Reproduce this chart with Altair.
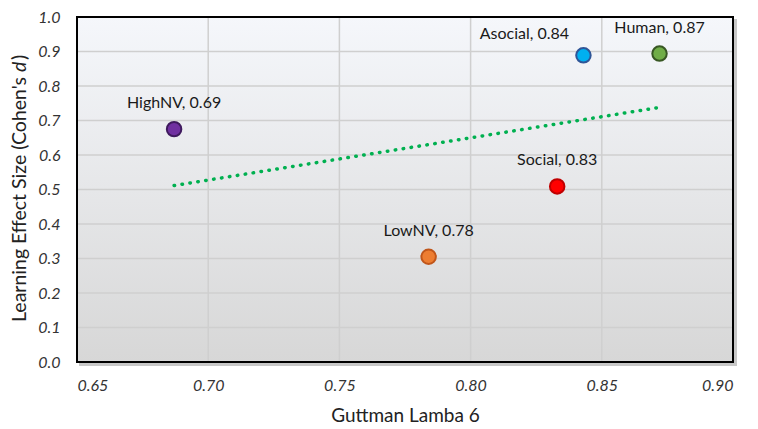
import altair as alt
import pandas as pd

# ---- data ----
names = ["HighNV", "LowNV", "Social", "Asocial", "Human"]
lamba6 = [0.687, 0.784, 0.833, 0.843, 0.872]
effect = [0.675, 0.305, 0.509, 0.889, 0.894]
labels = ["HighNV, 0.69", "LowNV, 0.78", "Social, 0.83", "Asocial, 0.84", "Human, 0.87"]
fill_colors = ["#7030a0", "#ed7d31", "#ff0000", "#00b0f0", "#70ad47"]
stroke_colors = ["#3f1a5e", "#c0561a", "#c00000", "#2f5597", "#385723"]
x_ticks = [0.65, 0.70, 0.75, 0.80, 0.85, 0.90]
y_ticks = [0.0, 0.1, 0.2, 0.3, 0.4, 0.5, 0.6, 0.7, 0.8, 0.9, 1.0]

W, H = 656, 345
FONT = "Lato"

df = pd.DataFrame({"name": names, "x": lamba6, "y": effect, "label": labels})
xt = pd.DataFrame({"t": x_ticks})
yt = pd.DataFrame({"t": y_ticks})
one = pd.DataFrame({"a": [0]})

xscale = alt.Scale(domain=[0.65, 0.90], nice=False, zero=False)
yscale = alt.Scale(domain=[0.0, 1.0], nice=False, zero=False)

xaxis = alt.Axis(values=x_ticks, format=".2f", title="Guttman Lamba 6",
                 grid=False, domain=False, ticks=False, labelOverlap=False,
                 labelFont=FONT, labelFontSize=16, labelFontStyle="italic",
                 labelColor="#333333", labelPadding=15,
                 titleFont=FONT, titleFontSize=19, titleFontWeight="normal",
                 titleColor="#222222", titlePadding=13)
yaxis = alt.Axis(values=y_ticks, format=".1f", title=None,
                 grid=False, domain=False, ticks=False, labelOverlap=False,
                 labelFont=FONT, labelFontSize=16, labelFontStyle="italic",
                 labelColor="#333333", labelPadding=17)


def X(field):
    return alt.X(field, scale=xscale, axis=xaxis)


def Y(field):
    return alt.Y(field, scale=yscale, axis=yaxis)


shadow = alt.Chart(one).mark_rect(color="#9a9a9a", opacity=0.55).encode(
    x=alt.value(2), x2=alt.value(W + 4), y=alt.value(2), y2=alt.value(H + 4))

bg = alt.Chart(one).mark_rect(
    color=alt.LinearGradient(
        gradient="linear", x1=0, y1=0, x2=0, y2=1,
        stops=[alt.GradientStop(color="#f5f7fb", offset=0),
               alt.GradientStop(color="#d7d7d7", offset=1)])
).encode(x=alt.value(0), x2=alt.value(W), y=alt.value(0), y2=alt.value(H))

vgrid = alt.Chart(xt).mark_rule(color="#cfcfcf", strokeWidth=1.5).encode(
    x=X("t:Q"), y=alt.value(0), y2=alt.value(H))

hgrid = alt.Chart(yt).mark_rule(color="#cfcfcf", strokeWidth=1.5).encode(
    y=Y("t:Q"), x=alt.value(0), x2=alt.value(W))

trend = alt.Chart(df).transform_regression("x", "y").mark_line(
    color="#00b050", strokeWidth=3.5, strokeDash=[0.5, 7.5], strokeCap="round"
).encode(x=X("x:Q"), y=Y("y:Q"))

frame = alt.Chart(one).mark_rect(fill=None, stroke="#000000", strokeWidth=2).encode(
    x=alt.value(0), x2=alt.value(W), y=alt.value(0), y2=alt.value(H))

pts = alt.Chart(df).mark_point(filled=True, shape="circle", size=210, strokeWidth=2, opacity=1).encode(
    x=X("x:Q"),
    y=Y("y:Q"),
    fill=alt.Fill("name:N", scale=alt.Scale(domain=names, range=fill_colors), legend=None),
    stroke=alt.Stroke("name:N", scale=alt.Scale(domain=names, range=stroke_colors), legend=None),
)

lab_main = alt.Chart(df).transform_filter(alt.datum.name != "Asocial").mark_text(
    font=FONT, fontSize=16, color="#1a1a1a", dy=-26).encode(
    x=X("x:Q"), y=Y("y:Q"), text="label:N")

lab_asoc = alt.Chart(df).transform_filter(alt.datum.name == "Asocial").mark_text(
    font=FONT, fontSize=16, color="#1a1a1a", dx=-59, dy=-21).encode(
    x=X("x:Q"), y=Y("y:Q"), text="label:N")

# y-axis title with italic "d"
TS = 19.5
TX = -57
t1 = alt.Chart(one).mark_text(font=FONT, fontSize=TS, color="#222222", angle=270,
                              align="right", baseline="middle").encode(
    x=alt.value(TX), y=alt.value(60), text=alt.value("Learning Effect Size (Cohen's"))
t2 = alt.Chart(one).mark_text(font=FONT, fontSize=TS, color="#222222", angle=270,
                              align="left", baseline="middle", fontStyle="italic").encode(
    x=alt.value(TX), y=alt.value(55), text=alt.value("d"))
t3 = alt.Chart(one).mark_text(font=FONT, fontSize=TS, color="#222222", angle=270,
                              align="left", baseline="middle").encode(
    x=alt.value(TX), y=alt.value(43), text=alt.value(")"))

chart = alt.layer(shadow, bg, vgrid, hgrid, trend, frame, pts, lab_main, lab_asoc, t1, t2, t3).properties(
    width=W, height=H,
    autosize=alt.AutoSizeParams(type="none"),
    padding={"left": 69, "top": 9, "right": 17, "bottom": 66},
).configure_view(stroke=None).configure(background="white")

chart.save("out.html", embed_options={"renderer": "svg", "actions": False})
